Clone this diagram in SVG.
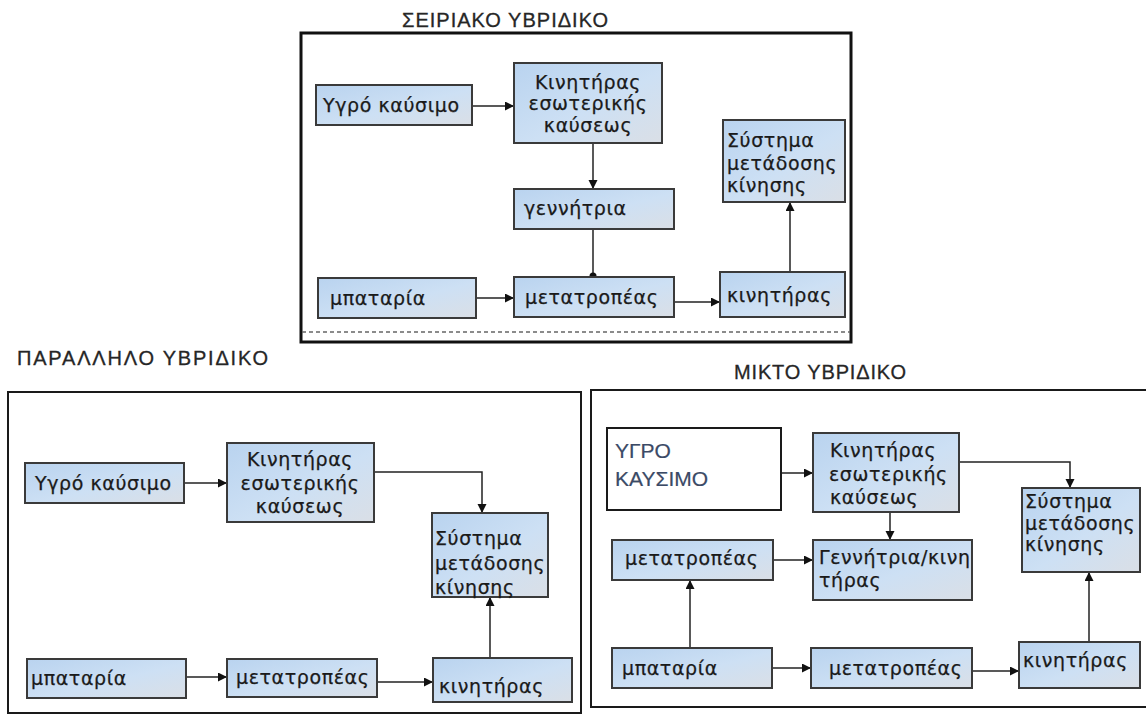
<svg xmlns="http://www.w3.org/2000/svg" width="1146" height="716" viewBox="0 0 1146 716">
<style>
.bg{fill:#ffffff}
.frame{fill:none;stroke:#1a1a1a;stroke-width:2}
.frameTop{fill:none;stroke:#111;stroke-width:3}
.dash{stroke:#666;stroke-width:1.5;stroke-dasharray:4 3}
.box{fill:url(#blue);stroke:#3a3a3a;stroke-width:2}
.wbox{fill:#ffffff;stroke:#1a1a1a;stroke-width:2}
.t{font-family:"DejaVu Sans",sans-serif;font-size:19px;letter-spacing:0.6px;fill:#1a1a1a;stroke:#1a1a1a;stroke-width:0.25;dominant-baseline:central}
.c{text-anchor:middle}
.title{font-family:"Liberation Sans",Arial,sans-serif;font-size:20px;fill:#262626;stroke:#262626;stroke-width:0.3}
.cap{font-family:"Liberation Sans",Arial,sans-serif;font-size:21px;fill:#3b4a66;stroke:#3b4a66;stroke-width:0.2;dominant-baseline:central}
.con{fill:none;stroke:#222;stroke-width:1.5}
</style>
<defs>
<linearGradient id="blue" x1="0" y1="0" x2="1" y2="1">
<stop offset="0" stop-color="#b9d3ef"/>
<stop offset="0.55" stop-color="#cde0f4"/>
<stop offset="1" stop-color="#dadfe6"/>
</linearGradient>
<marker id="arr" markerUnits="userSpaceOnUse" markerWidth="10" markerHeight="10" refX="9" refY="4.5" orient="auto">
<path d="M0,0 L9,4.5 L0,9 z" fill="#111"/>
</marker>
<marker id="dot" markerUnits="userSpaceOnUse" markerWidth="8" markerHeight="8" refX="4" refY="4" orient="auto">
<circle cx="4" cy="4" r="3.5" fill="#111"/>
</marker>
</defs>
<rect class="bg" x="0" y="0" width="1146" height="716"/>

<!-- titles -->
<text class="title" x="402" y="27" textLength="206" lengthAdjust="spacing">ΣΕΙΡΙΑΚΟ  ΥΒΡΙΔΙΚΟ</text>
<text class="title" x="17" y="365" textLength="251" lengthAdjust="spacing">ΠΑΡΑΛΛΗΛΟ ΥΒΡΙΔΙΚΟ</text>
<text class="title" x="734" y="379" textLength="172" lengthAdjust="spacing">ΜΙΚΤΟ ΥΒΡΙΔΙΚΟ</text>

<!-- panel frames -->
<rect class="frameTop" x="301" y="33" width="550" height="309"/>
<line class="dash" x1="302" y1="332" x2="850" y2="332"/>
<rect class="frame" x="8" y="392" width="573" height="321"/>
<rect class="frame" x="591" y="390" width="560" height="317"/>

<!-- connectors -->
<g id="connectors">
<path class="con" d="M472,106 H514" marker-end="url(#arr)"/>
<path class="con" d="M593,143 V189" marker-end="url(#arr)"/>
<path class="con" d="M593,229 V276" marker-end="url(#dot)"/>
<path class="con" d="M476,298 H514" marker-end="url(#arr)"/>
<path class="con" d="M674,302 H720" marker-end="url(#arr)"/>
<path class="con" d="M790,272 V202" marker-end="url(#arr)"/>

<path class="con" d="M184,483 H227" marker-end="url(#arr)"/>
<path class="con" d="M374,472 H482 V513" marker-end="url(#arr)"/>
<path class="con" d="M186,677 H227" marker-end="url(#arr)"/>
<path class="con" d="M377,682 H433" marker-end="url(#arr)"/>
<path class="con" d="M490,658 V597" marker-end="url(#arr)"/>

<path class="con" d="M781,473 H813" marker-end="url(#arr)"/>
<path class="con" d="M959,462 H1070 V488" marker-end="url(#arr)"/>
<path class="con" d="M890,512 V540" marker-end="url(#arr)"/>
<path class="con" d="M773,560 H813" marker-end="url(#arr)"/>
<path class="con" d="M690,648 V580" marker-end="url(#arr)"/>
<path class="con" d="M772,668 H811" marker-end="url(#arr)"/>
<path class="con" d="M972,671 H1019" marker-end="url(#arr)"/>
<path class="con" d="M1089,642 V572" marker-end="url(#arr)"/>
</g>

<!-- series hybrid -->
<g id="s_fuel"><rect class="box" x="316" y="85" width="156" height="40"/><text class="t" x="323" y="105">Υγρό καύσιμο</text></g>
<g id="s_ice"><rect class="box" x="514" y="63" width="148" height="80"/><text class="t c" x="588" y="82">Κινητήρας</text><text class="t c" x="588" y="103">εσωτερικής</text><text class="t c" x="588" y="125">καύσεως</text></g>
<g id="s_gen"><rect class="box" x="514" y="189" width="160" height="40"/><text class="t" x="524" y="208">γεννήτρια</text></g>
<g id="s_bat"><rect class="box" x="318" y="278" width="158" height="40"/><text class="t" x="330" y="298">μπαταρία</text></g>
<g id="s_conv"><rect class="box" x="514" y="277" width="160" height="40"/><text class="t" x="525" y="297">μετατροπέας</text></g>
<g id="s_mot"><rect class="box" x="720" y="272" width="125" height="45"/><text class="t" x="727" y="295">κινητήρας</text></g>
<g id="s_trans"><rect class="box" x="723" y="120" width="122" height="82"/><text class="t" x="727" y="140">Σύστημα</text><text class="t" x="727" y="163">μετάδοσης</text><text class="t" x="727" y="185">κίνησης</text></g>

<!-- parallel hybrid -->
<g id="p_fuel"><rect class="box" x="25" y="463" width="159" height="40"/><text class="t" x="35" y="483">Υγρό καύσιμο</text></g>
<g id="p_ice"><rect class="box" x="227" y="443" width="147" height="79"/><text class="t c" x="300" y="459">Κινητήρας</text><text class="t c" x="300" y="483">εσωτερικής</text><text class="t c" x="300" y="506">καύσεως</text></g>
<g id="p_trans"><rect class="box" x="432" y="513" width="116" height="84"/><text class="t" x="435" y="538">Σύστημα</text><text class="t" x="435" y="563">μετάδοσης</text><text class="t" x="435" y="587">κίνησης</text></g>
<g id="p_bat"><rect class="box" x="27" y="659" width="159" height="39"/><text class="t" x="31" y="678">μπαταρία</text></g>
<g id="p_conv"><rect class="box" x="227" y="659" width="150" height="38"/><text class="t" x="236" y="677">μετατροπέας</text></g>
<g id="p_mot"><rect class="box" x="433" y="658" width="139" height="44"/><text class="t" x="439" y="686">κινητήρας</text></g>

<!-- mixed hybrid -->
<g id="m_fuel"><rect class="wbox" x="607" y="428" width="174" height="82"/><text class="cap" x="615" y="450">ΥΓΡΟ</text><text class="cap" x="615" y="478">ΚΑΥΣΙΜΟ</text></g>
<g id="m_ice"><rect class="box" x="813" y="433" width="146" height="79"/><text class="t" x="830" y="450">Κινητήρας</text><text class="t" x="829" y="474">εσωτερικής</text><text class="t" x="830" y="497">καύσεως</text></g>
<g id="m_trans"><rect class="box" x="1022" y="488" width="118" height="84"/><text class="t" x="1025" y="501">Σύστημα</text><text class="t" x="1025" y="523">μετάδοσης</text><text class="t" x="1025" y="544">κίνησης</text></g>
<g id="m_conv1"><rect class="box" x="612" y="540" width="161" height="40"/><text class="t" x="625" y="558">μετατροπέας</text></g>
<g id="m_gen"><rect class="box" x="813" y="540" width="159" height="60"/><text class="t" x="819" y="557">Γεννήτρια/κινη</text><text class="t" x="819" y="580">τήρας</text></g>
<g id="m_bat"><rect class="box" x="612" y="648" width="160" height="40"/><text class="t" x="622" y="668">μπαταρία</text></g>
<g id="m_conv2"><rect class="box" x="811" y="648" width="161" height="40"/><text class="t" x="829" y="668">μετατροπέας</text></g>
<g id="m_mot"><rect class="box" x="1019" y="642" width="121" height="46"/><text class="t" x="1023" y="660">κινητήρας</text></g>
</svg>
